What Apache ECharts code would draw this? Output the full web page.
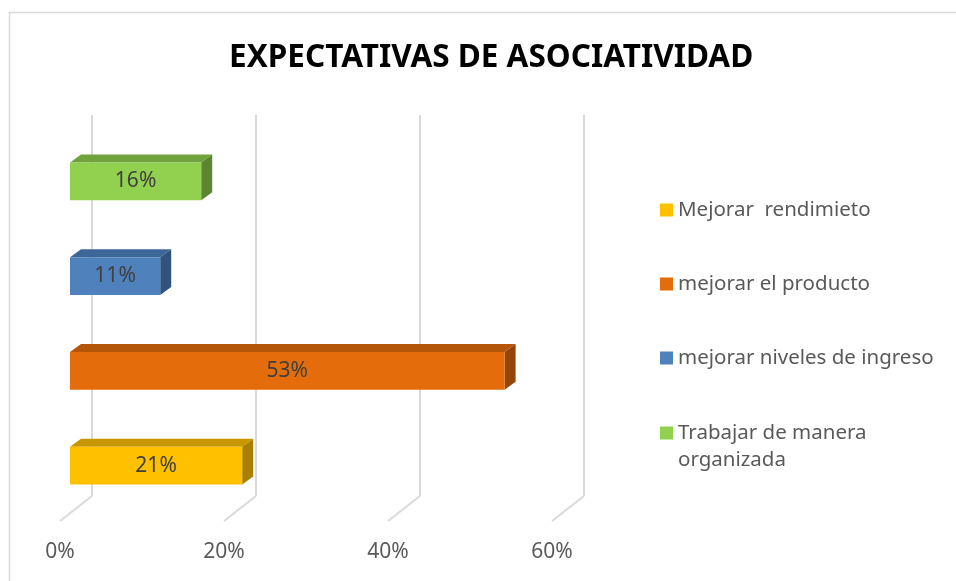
<!DOCTYPE html>
<html>
<head>
<meta charset="utf-8">
<script src="https://cdn.jsdelivr.net/npm/echarts@6/dist/echarts.min.js"></script>
<style>
html,body{margin:0;padding:0;background:#fff;}
#main{width:956px;height:581px;}
</style>
</head>
<body>
<div id="main"></div>
<script>
// data (bottom to top)
var categories = ['Mejorar  rendimieto', 'mejorar el producto', 'mejorar niveles de ingreso', 'Trabajar de manera organizada'];
var values = [21, 53, 11, 16];
var ticks = [0, 20, 40, 60];
var tickLabels = ['0%', '20%', '40%', '60%'];

var frontColors = ['#FFC000', '#E46C0A', '#4F81BD', '#92D050'];
var topColors = ['#C89700', '#B3560A', '#3D6699', '#72A23E'];
var sideColors = ['#A87F00', '#94460A', '#31527C', '#5C8531'];

// oblique offsets (px) relative to the plane of the bars' front faces
var BAR_DX = 11, BAR_DY = -8;     // bar depth
var BACK_DX = 22, BACK_DY = -17;  // back wall
var FRONT_DX = -10, FRONT_DY = 8; // front edge of the floor

var myChart = echarts.init(document.getElementById('main'));

var series = [];
// floor diagonals
series.push({
  type: 'custom',
  name: 'floor',
  xAxisIndex: 0, yAxisIndex: 0,
  z: 1,
  silent: true,
  data: ticks.map(function (t) { return [t, 0]; }),
  renderItem: function (params, api) {
    var p = api.coord([api.value(0), api.value(1)]);
    var yb = p[1] + api.size([0, 1])[1] / 2;
    return {
      type: 'line',
      shape: { x1: p[0] + BACK_DX, y1: yb + BACK_DY, x2: p[0] + FRONT_DX, y2: yb + FRONT_DY },
      style: { stroke: '#d9d9d9', lineWidth: 2 }
    };
  }
});
// 3d bars, one series per category so the legend lists them
categories.forEach(function (name, i) {
  series.push({
    type: 'custom',
    name: name,
    xAxisIndex: 0, yAxisIndex: 0,
    z: 3,
    itemStyle: { color: frontColors[i] },
    data: [[values[i], i]],
    renderItem: function (params, api) {
      var c0 = api.coord([0, api.value(1)]);
      var c1 = api.coord([api.value(0), api.value(1)]);
      var h = api.size([0, 1])[1] * 0.4;
      var x0 = c0[0], x1 = c1[0];
      var yt = c1[1] - h / 2, yb = c1[1] + h / 2;
      return {
        type: 'group',
        children: [
          { type: 'polygon', shape: { points: [[x0, yt], [x0 + BAR_DX, yt + BAR_DY], [x1 + BAR_DX, yt + BAR_DY], [x1, yt]] },
            style: { fill: topColors[i] } },
          { type: 'polygon', shape: { points: [[x1, yt], [x1 + BAR_DX, yt + BAR_DY], [x1 + BAR_DX, yb + BAR_DY], [x1, yb]] },
            style: { fill: sideColors[i] } },
          { type: 'rect', shape: { x: x0, y: yt, width: x1 - x0, height: yb - yt },
            style: { fill: frontColors[i] } },
          { type: 'text', style: { text: api.value(0) + '%', x: (x0 + x1) / 2, y: (yt + yb) / 2,
            align: 'center', verticalAlign: 'middle', fill: '#404040', fontSize: 21, fontFamily: 'Noto Sans' } }
        ]
      };
    }
  });
});

var legendTops = [196.5, 270.5, 344.5, 392.5];
var legends = categories.map(function (name, i) {
  return {
    data: [name],
    orient: 'vertical',
    left: 660,
    top: legendTops[i],
    padding: 0,
    icon: 'rect',
    itemWidth: 13,
    itemHeight: 13,
    selectedMode: false,
    // blank first line keeps the square beside the first text line
    formatter: function (n) { return n === 'Trabajar de manera organizada' ? '\nTrabajar de manera\norganizada' : n; },
    textStyle: { color: '#595959', fontSize: 20.5, fontFamily: 'Noto Sans', lineHeight: 27 }
  };
});

var option = {
  animation: false,
  title: {
    text: 'EXPECTATIVAS DE ASOCIATIVIDAD',
    left: 229,
    top: 42,
    padding: 0,
    textStyle: { color: '#000', fontSize: 31.5, fontWeight: 'bold', fontFamily: 'Noto Sans' }
  },
  legend: legends,
  graphic: [{
    type: 'rect',
    shape: { x: 9.5, y: 12.5, width: 1000, height: 700 },
    style: { fill: 'none', stroke: '#d9d9d9', lineWidth: 1.5 },
    silent: true
  }],
  grid: [
    { left: 70, top: 134, width: 492, height: 379 },  // bar front faces
    { left: 60, top: 142, width: 492, height: 379 },  // front edge (labels)
    { left: 92, top: 115, width: 492, height: 381 }   // back wall
  ],
  xAxis: [
    { gridIndex: 0, type: 'value', min: 0, max: 60, interval: 20, show: false },
    { gridIndex: 1, type: 'value', min: 0, max: 60, interval: 20,
      axisLine: { show: false }, axisTick: { show: false }, splitLine: { show: false },
      axisLabel: { margin: 21, color: '#595959', fontSize: 21, fontFamily: 'Noto Sans',
        formatter: function (v) { return tickLabels[ticks.indexOf(v)]; } } },
    { gridIndex: 2, type: 'value', min: 0, max: 60, interval: 20,
      axisLine: { show: false }, axisTick: { show: false }, axisLabel: { show: false },
      splitLine: { show: true, lineStyle: { color: '#d9d9d9', width: 2 } } }
  ],
  yAxis: [
    { gridIndex: 0, type: 'category', data: categories, show: false },
    { gridIndex: 1, type: 'category', data: categories, show: false },
    { gridIndex: 2, type: 'category', data: categories, show: false }
  ],
  series: series
};
myChart.setOption(option);
</script>
</body>
</html>
